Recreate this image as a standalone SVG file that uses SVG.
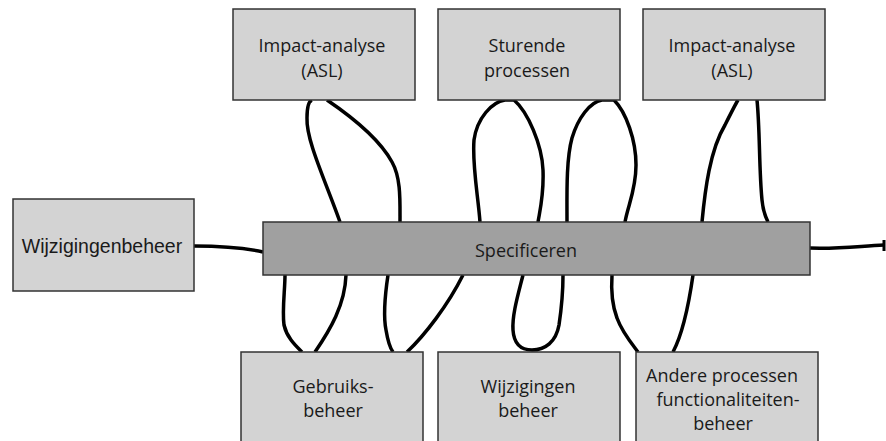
<svg xmlns="http://www.w3.org/2000/svg" width="886" height="441" viewBox="0 0 886 441">
  <style>
    .box { fill: #d3d3d3; stroke: #333333; stroke-width: 1.5; }
    .bar { fill: #a0a0a0; stroke: #333333; stroke-width: 1.5; }
    .lbl { font-family: "Open Sans", "Noto Sans", sans-serif; font-size: 18px; fill: #1a1a1a; text-anchor: middle; }
    .lbl2 { font-family: "Liberation Sans", Arial, sans-serif; font-size: 19.5px; fill: #1a1a1a; text-anchor: middle; }
    .wire { fill: none; stroke: #000000; stroke-width: 3.5; stroke-linecap: butt; }
  </style>

  <!-- connectors: loops between the process boxes and the central bar -->
  <g id="connectors">
    <!-- left input and right output -->
    <path class="wire" d="M194,246 C225,246 245,248 263,252"/>
    <path class="wire" d="M810,248 C840,249 860,246 884,245"/>
    <path d="M884,240 L884,251" stroke="#000" stroke-width="3"/>

    <!-- loops to the upper boxes -->
    <path class="wire" d="M340,222 C325,180 306,140 307,118 C307,106 309,101 312,100 M327,100 C352,117 380,140 392,162 C401,178 400,200 400,222"/>
    <path class="wire" d="M480,222 C478,195 472,165 474,140 C477,118 492,102 505,100 L514,100 C528,112 542,145 543,170 C544,195 540,210 538,222"/>
    <path class="wire" d="M567,222 C567,195 566,160 572,138 C578,118 590,102 602,100 L614,100 C626,112 636,140 636,165 C636,190 628,205 625,222"/>
    <path class="wire" d="M702,222 C705,190 710,150 725,125 C730,115 735,105 738,100 M757,100 C760,130 759,170 762,200 C763,212 766,218 768,222"/>

    <!-- loops to the lower boxes -->
    <path class="wire" d="M285,275 C285,290 282,310 284,325 C287,338 296,346 302,352 M315,352 C330,330 345,305 346,275"/>
    <path class="wire" d="M388,275 C385,295 383,315 386,330 C388,342 390,348 393,352 M407,352 C425,335 448,305 463,275"/>
    <path class="wire" d="M523,275 C518,295 512,315 513,330 C514,345 522,350 532,350 C545,350 556,342 559,325 C562,305 563,290 563,275"/>
    <path class="wire" d="M612,275 C611,290 612,305 617,318 C622,332 632,344 638,352 M673,352 C682,335 688,310 693,275"/>
  </g>

  <g id="impact-analyse-1">
    <rect class="box" x="233" y="9" width="182" height="91"/>
    <text class="lbl" x="322" y="52">Impact-analyse</text>
    <text class="lbl" x="322" y="77">(ASL)</text>
  </g>
  <g id="sturende-processen">
    <rect class="box" x="438" y="9" width="182" height="91"/>
    <text class="lbl" x="527" y="52">Sturende</text>
    <text class="lbl" x="527" y="77">processen</text>
  </g>
  <g id="impact-analyse-2">
    <rect class="box" x="643" y="9" width="182" height="91"/>
    <text class="lbl" x="732" y="52">Impact-analyse</text>
    <text class="lbl" x="732" y="77">(ASL)</text>
  </g>

  <g id="wijzigingenbeheer">
    <rect class="box" x="13" y="199" width="181" height="92"/>
    <text class="lbl2" x="102" y="253">Wijzigingenbeheer</text>
  </g>

  <g id="specificeren">
    <rect class="bar" x="263" y="222" width="547" height="53"/>
    <text class="lbl" x="526" y="257">Specificeren</text>
  </g>

  <g id="gebruiksbeheer">
    <rect class="box" x="241" y="352" width="182" height="100"/>
    <text class="lbl" x="333" y="393">Gebruiks-</text>
    <text class="lbl" x="333" y="417">beheer</text>
  </g>
  <g id="wijzigingen-beheer">
    <rect class="box" x="438" y="352" width="182" height="100"/>
    <text class="lbl" x="528" y="393">Wijzigingen</text>
    <text class="lbl" x="528" y="417">beheer</text>
  </g>
  <g id="andere-processen">
    <rect class="box" x="636" y="352" width="182" height="100"/>
    <text class="lbl" x="722" y="382">Andere processen</text>
    <text class="lbl" x="728" y="406">functionaliteiten-</text>
    <text class="lbl" x="723" y="430">beheer</text>
  </g>
</svg>
